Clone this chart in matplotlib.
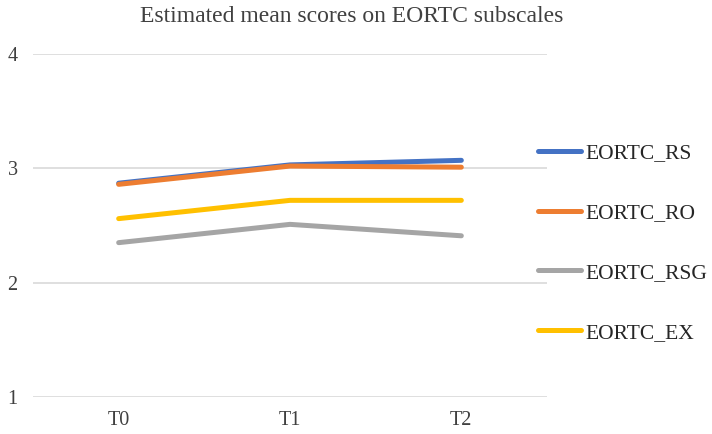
import matplotlib
matplotlib.use("Agg")
import matplotlib.pyplot as plt

categories = ["T0", "T1", "T2"]
series_names = ["EORTC_RS", "EORTC_RO", "EORTC_RSG", "EORTC_EX"]
eortc_rs = [2.87, 3.03, 3.07]
eortc_ro = [2.86, 3.02, 3.01]
eortc_rsg = [2.35, 2.51, 2.41]
eortc_ex = [2.56, 2.72, 2.72]
y_ticks = [1, 2, 3, 4]
colors = ["#4472C4", "#ED7D31", "#A5A5A5", "#FFC000"]

plt.rcParams["font.family"] = ["Liberation Serif", "DejaVu Serif"]

fig = plt.figure(figsize=(7.12, 4.34), dpi=100)
ax = fig.add_axes([33/712, 1-397/434, (547-33)/712, (397-54)/434])

x = list(range(len(categories)))
for vals, name, c in zip([eortc_rs, eortc_ro, eortc_rsg, eortc_ex], series_names, colors):
    ax.plot(x, vals, color=c, lw=3.6, solid_capstyle="round", label=name, zorder=3)

ax.set_xlim(-0.5, len(categories) - 0.5)
ax.set_ylim(1, 4)
ax.set_yticks(y_ticks)
ax.set_yticklabels([str(t) for t in y_ticks])
ax.set_xticks(x)
ax.set_xticklabels(categories)
for s in ax.spines.values():
    s.set_visible(False)
ax.grid(axis="y", color="#D9D9D9", lw=1.2, zorder=0)
ax.tick_params(axis="both", length=0, labelsize=14.5, colors="#404040")
ax.tick_params(axis="y", pad=11)
ax.tick_params(axis="x", pad=10)

fig.text(352/712, 1-16/434, "Estimated mean scores on EORTC subscales",
         ha="center", va="center", fontsize=17, color="#404040")

handles, labels = ax.get_legend_handles_labels()
leg = fig.legend(handles, labels, loc="center left", bbox_to_anchor=(538/712, 1-243/434),
                 frameon=False, fontsize=15.5, handlelength=2.0, handletextpad=0.2,
                 labelspacing=1.85, borderpad=0, borderaxespad=0)
for t in leg.get_texts():
    t.set_color("#262626")

fig.savefig("out.png", dpi=100)
